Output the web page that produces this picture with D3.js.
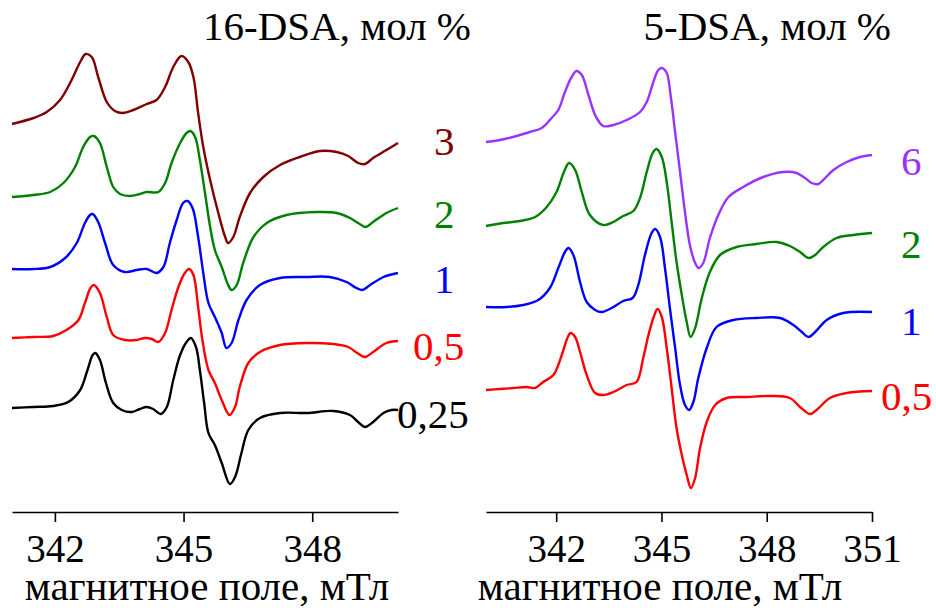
<!DOCTYPE html>
<html>
<head>
<meta charset="utf-8">
<script src="https://cdn.jsdelivr.net/npm/d3@7"></script>
<style>
  body { margin: 0; background: #fff; }
  svg { display: block; }
</style>
</head>
<body>
<svg width="936" height="608"></svg>
<script>
const WIDTH = 936
const HEIGHT = 608
const SERIF = "'Liberation Serif', 'Times New Roman', Times, serif"

// ---- data: [field mT, signal a.u. (offset included)] ----
// 16-DSA
const dsa16_3 = [[341.00,388],[341.50,394],[341.81,400],[342.12,412],[342.39,432],[342.59,450],[342.72,458],[342.86,455],[343.01,435],[343.21,410],[343.40,401],[343.58,399],[343.83,402],[344.14,408],[344.37,412],[344.57,425],[344.76,445],[344.95,456],[345.11,450],[345.23,435],[345.34,399],[345.46,365],[345.62,332],[345.81,299],[345.97,275],[346.04,269],[346.16,275],[346.31,295],[346.55,319],[346.86,335],[347.25,347],[347.71,355],[348.18,361],[348.57,360],[348.84,356],[349.07,349],[349.23,348],[349.42,354],[349.73,362],[350.00,369]]
const dsa16_2 = [[341.00,315],[341.50,317],[341.89,320],[342.20,329],[342.47,345],[342.66,365],[342.82,375],[342.91,376],[343.05,369],[343.21,345],[343.36,325],[343.52,318],[343.75,316],[343.98,318],[344.14,320],[344.41,320],[344.57,329],[344.72,349],[344.92,369],[345.07,379],[345.16,381],[345.27,375],[345.38,352],[345.50,319],[345.62,285],[345.73,262],[345.89,245],[346.04,227],[346.12,222],[346.24,227],[346.39,249],[346.63,275],[346.94,289],[347.40,297],[348.10,300],[348.57,299],[348.88,294],[349.07,289],[349.25,285],[349.42,290],[349.73,299],[350.00,304]]
const dsa16_1 = [[341.00,243],[341.50,243],[341.89,245],[342.24,254],[342.51,269],[342.70,289],[342.82,297],[342.88,298],[343.01,290],[343.17,269],[343.36,247],[343.63,240],[343.91,242],[344.14,243],[344.37,239],[344.53,245],[344.68,269],[344.84,292],[344.99,309],[345.09,311],[345.21,304],[345.34,275],[345.46,239],[345.58,209],[345.73,195],[345.89,179],[346.00,164],[346.12,169],[346.28,192],[346.47,212],[346.78,227],[347.25,234],[347.87,235],[348.41,235],[348.80,230],[349.03,224],[349.17,222],[349.35,227],[349.66,235],[350.00,239]]
const dsa16_05 = [[341.00,174],[341.50,175],[341.96,176],[342.27,182],[342.55,192],[342.70,209],[342.83,224],[342.91,227],[343.05,219],[343.21,195],[343.36,177],[343.63,172],[343.91,172],[344.10,174],[344.26,173],[344.41,170],[344.57,179],[344.72,202],[344.88,225],[345.03,239],[345.13,243],[345.23,237],[345.34,205],[345.44,172],[345.58,142],[345.73,129],[345.89,112],[346.07,97],[346.20,105],[346.31,125],[346.51,149],[346.78,160],[347.25,167],[347.87,169],[348.49,168],[348.84,165],[349.05,159],[349.23,155],[349.42,160],[349.73,169],[350.00,171]]
const dsa16_025 = [[341.00,104],[341.50,105],[341.96,106],[342.31,110],[342.59,122],[342.76,142],[342.88,157],[342.94,159],[343.05,152],[343.19,129],[343.36,109],[343.56,102],[343.79,100],[343.98,103],[344.14,105],[344.29,103],[344.47,98],[344.61,105],[344.76,132],[344.92,157],[345.07,170],[345.17,174],[345.29,165],[345.38,142],[345.48,109],[345.58,79],[345.73,67],[345.89,49],[346.08,28],[346.20,35],[346.35,59],[346.51,82],[346.78,94],[347.25,99],[347.87,99],[348.49,101],[348.88,97],[349.07,90],[349.23,85],[349.42,90],[349.66,99],[349.85,102],[350.00,102]]

// 5-DSA
const dsa5_6 = [[340.00,370],[340.40,372],[340.87,376],[341.25,380],[341.59,384],[341.87,394],[342.06,402],[342.25,420],[342.44,435],[342.58,441],[342.73,437],[342.92,417],[343.11,397],[343.34,386],[343.63,387],[344.01,392],[344.39,400],[344.58,410],[344.77,430],[344.91,442],[345.01,444],[345.15,439],[345.26,417],[345.39,380],[345.53,340],[345.67,300],[345.81,267],[345.96,249],[346.06,244],[346.19,249],[346.38,274],[346.62,297],[346.91,315],[347.33,325],[347.90,335],[348.47,340],[348.85,339],[349.09,334],[349.28,329],[349.47,328],[349.61,332],[349.90,342],[350.28,350],[350.66,355],[351.00,357]]
const dsa5_2 = [[340.00,286],[340.49,289],[340.97,291],[341.40,295],[341.73,305],[342.01,320],[342.22,340],[342.37,349],[342.54,342],[342.73,320],[342.96,297],[343.34,287],[343.63,290],[343.91,296],[344.20,301],[344.39,314],[344.58,340],[344.75,359],[344.86,363],[345.01,355],[345.15,330],[345.29,290],[345.43,250],[345.58,217],[345.72,190],[345.83,175],[345.96,184],[346.15,214],[346.38,240],[346.67,257],[347.14,265],[347.71,268],[348.28,270],[348.66,266],[348.95,260],[349.19,254],[349.38,257],[349.61,265],[349.99,274],[350.47,277],[351.00,279]]
const dsa5_1 = [[340.00,205],[340.59,205],[341.06,207],[341.49,212],[341.82,224],[342.06,244],[342.25,260],[342.35,264],[342.49,257],[342.68,230],[342.87,210],[343.11,202],[343.30,200],[343.58,204],[343.91,211],[344.18,214],[344.34,227],[344.53,257],[344.72,279],[344.82,283],[344.96,275],[345.10,244],[345.24,204],[345.39,164],[345.53,127],[345.67,107],[345.79,102],[345.91,110],[346.05,134],[346.29,164],[346.57,185],[347.05,192],[347.71,194],[348.38,194],[348.76,187],[349.00,180],[349.19,175],[349.38,180],[349.71,192],[350.18,199],[351.00,200]]
const dsa5_05 = [[340.00,122],[340.40,123],[340.78,124],[341.16,125],[341.40,124],[341.63,130],[341.92,137],[342.16,157],[342.32,174],[342.41,179],[342.54,175],[342.68,160],[342.87,137],[343.11,119],[343.34,117],[343.63,120],[344.01,127],[344.29,130],[344.48,154],[344.63,177],[344.77,194],[344.89,203],[345.01,195],[345.15,164],[345.29,124],[345.43,84],[345.58,57],[345.72,37],[345.84,24],[345.96,34],[346.10,64],[346.29,90],[346.53,107],[346.86,114],[347.43,115],[348.09,116],[348.66,114],[348.95,105],[349.23,98],[349.42,102],[349.80,114],[350.28,119],[351.00,121]]

const labels16 = ["3", "2", "1", "0,5", "0,25"]
const labels5 = ["6", "2", "1", "0,5"]
const colors16 = ["#800000", "#008000", "#0000ff", "#ff0000", "#000000"]
const colors5 = ["#9933ff", "#008000", "#0000ff", "#ff0000"]
const ticks16 = [342, 345, 348]
const ticks5 = [342, 345, 348, 351]

const panels = [
    {
        title: "16-DSA, мол %",
        series: [dsa16_3, dsa16_2, dsa16_1, dsa16_05, dsa16_025],
        labels: labels16, colors: colors16,
        domain: [341, 350], range: [12, 398],
        ticks: ticks16,
        titleX: 471,
        xlabelX: 207,
        // label placement (px, relative to curve end)
        labelDx: [36, 36, 36, 15, -1],
        labelDy: [12, 20, 20, 19, 18]
    },
    {
        title: "5-DSA, мол %",
        series: [dsa5_6, dsa5_2, dsa5_1, dsa5_05],
        labels: labels5, colors: colors5,
        domain: [340, 351], range: [486, 872],
        ticks: ticks5,
        titleX: 891,
        xlabelX: 660,
        labelDx: [29, 29, 29, 9],
        labelDy: [20, 25, 23, 19]
    }
]

const svg = d3.select("svg")
svg.append("rect").attr("width", WIDTH).attr("height", HEIGHT).attr("fill", "#fff")

const AXIS_Y = 512

panels.forEach(function(p) {
    let x = d3.scaleLinear().domain(p.domain).range(p.range)
    let y = d3.scaleLinear().domain([0, 500]).range([AXIS_Y, 12])

    let line = d3.line()
        .x(d => x(d[0]))
        .y(d => y(d[1]))
        .curve(d3.curveCatmullRom.alpha(0.5))

    let g = svg.append("g")

    g.selectAll("path.spec")
        .data(p.series)
        .enter()
        .append("path")
        .classed("spec", true)
        .attr("d", line)
        .attr("fill", "none")
        .attr("stroke", (d, i) => p.colors[i])
        .attr("stroke-width", 2.4)
        .attr("stroke-linejoin", "round")

    g.selectAll("text.lbl")
        .data(p.series)
        .enter()
        .append("text")
        .classed("lbl", true)
        .attr("x", (d, i) => x(p.domain[1]) + p.labelDx[i])
        .attr("y", (d, i) => y(d[d.length - 1][1]) + p.labelDy[i])
        .attr("fill", (d, i) => p.colors[i])
        .attr("font-family", SERIF)
        .attr("font-size", 41)
        .text((d, i) => p.labels[i])

    // minor ticks every 1.5 mT
    let minor = d3.range(p.domain[0], p.domain[1] + 0.01, 1.5)
        .filter(v => p.ticks.indexOf(v) < 0)

    let ax = g.append("g")
        .attr("transform", "translate(0," + AXIS_Y + ")")

    ax.call(d3.axisBottom(x).tickValues(minor).tickSize(4).tickSizeOuter(0).tickFormat(""))
    ax.call(d3.axisBottom(x).tickValues(p.ticks).tickSize(10).tickSizeOuter(0))
    ax.attr("font-family", SERIF).attr("font-size", 39)

    ax.selectAll("path.domain").attr("stroke", "#000").attr("stroke-width", 1.6)
    ax.selectAll("line").attr("stroke", "#000").attr("stroke-width", 1.6)
    ax.selectAll("text")
        .attr("y", 50)
        .attr("dy", 0)
        .attr("fill", "#000")

    g.append("text")
        .attr("x", p.xlabelX)
        .attr("y", 600)
        .attr("text-anchor", "middle")
        .attr("font-family", SERIF)
        .attr("font-size", 41)
        .text("магнитное поле, мТл")

    g.append("text")
        .attr("x", p.titleX)
        .attr("y", 40)
        .attr("text-anchor", "end")
        .attr("font-family", SERIF)
        .attr("font-size", 41)
        .text(p.title)
})
</script>
</body>
</html>
